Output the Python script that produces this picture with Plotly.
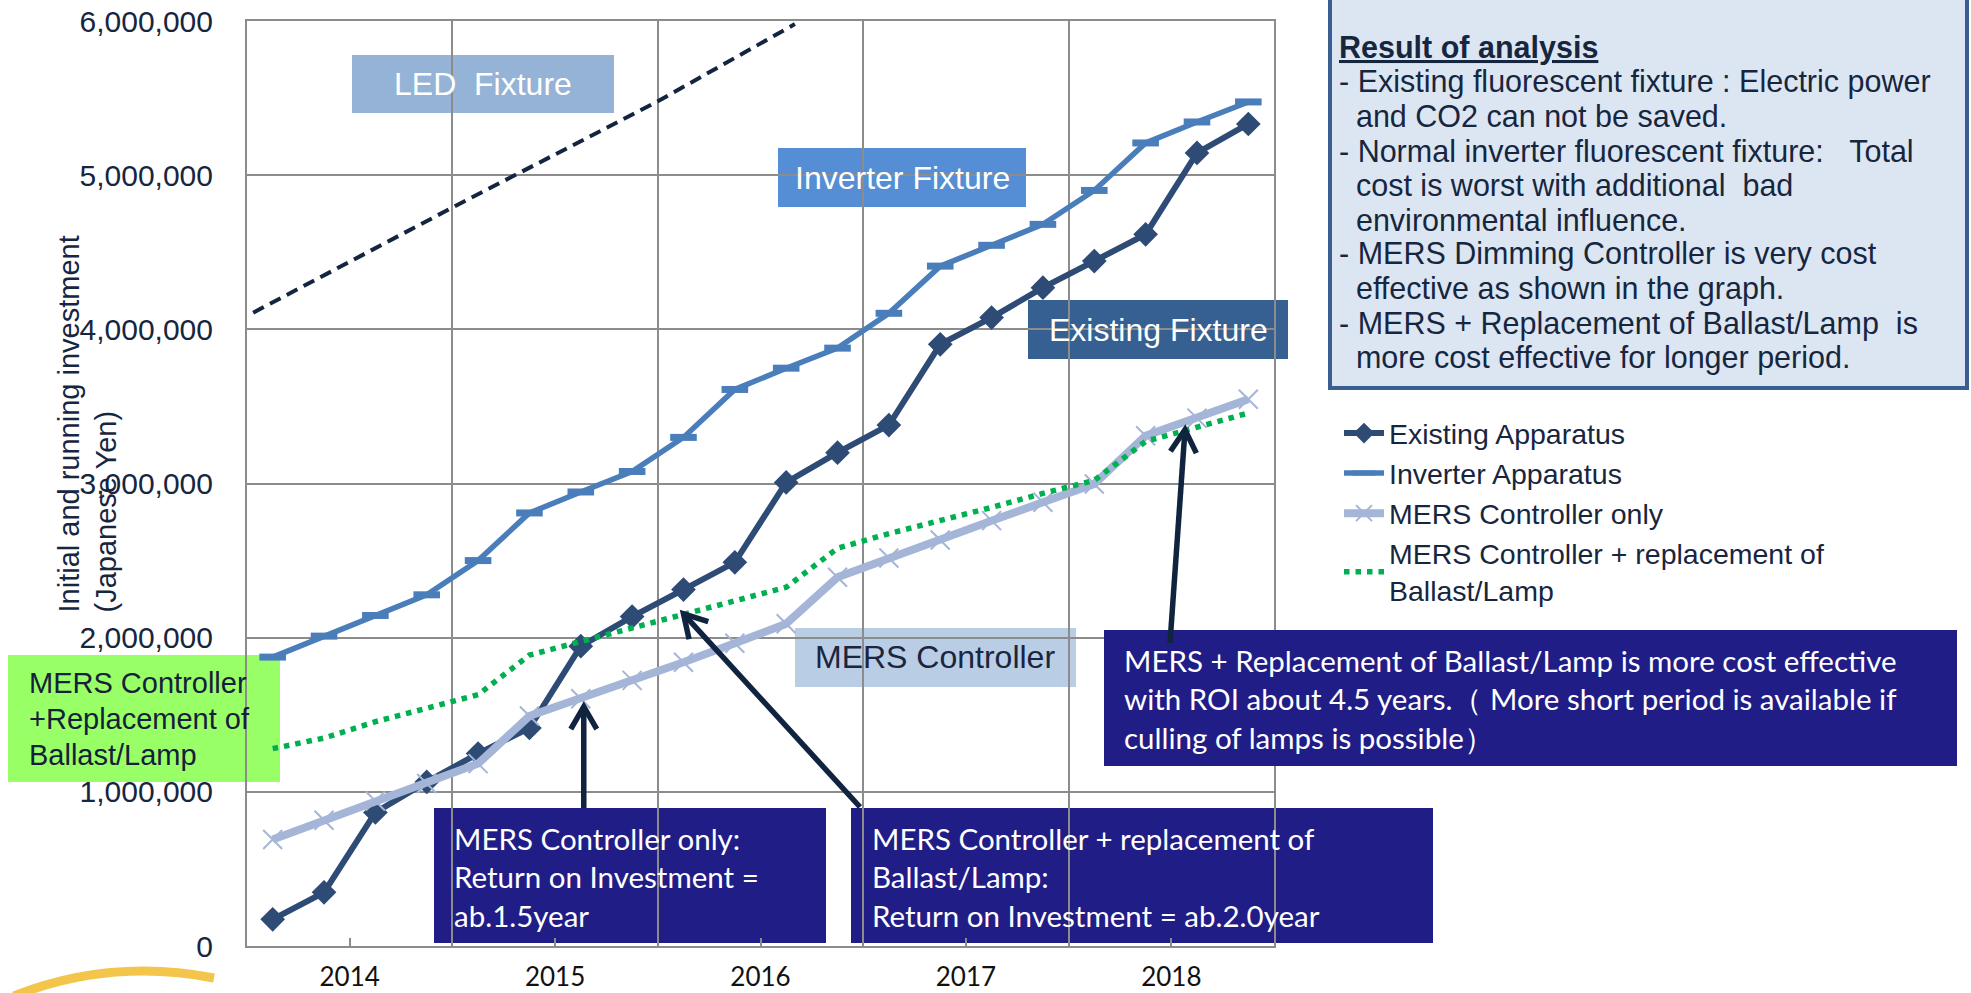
import math
import plotly.graph_objects as go

# ---------------- data ----------------
years = ["2014", "2015", "2016", "2017", "2018"]
quarters_per_year = 4

existing = [173000, 348000, 866000, 1064000, 1248000, 1414000, 1945000, 2137000, 2312000, 2489000,
            3007000, 3200000, 3379000, 3903000, 4076000, 4270000, 4443000, 4616000, 5144000, 5332000]
inverter = [1874000, 2010000, 2144000, 2278000, 2500000, 2809000, 2945000, 3078000, 3299000, 3610000,
            3748000, 3878000, 4104000, 4410000, 4545000, 4681000, 4901000, 5209000, 5345000, 5475000]
mers_only = [691000, 816000, 941000, 1054000, 1183000, 1492000, 1604000, 1723000, 1841000, 1964000,
             2090000, 2392000, 2517000, 2634000, 2759000, 2878000, 2997000, 3310000, 3424000, 3547000]
mers_repl = [1280000, 1349000, 1455000, 1539000, 1630000, 1887000, 1973000, 2062000, 2148000, 2239000,
             2327000, 2580000, 2675000, 2757000, 2845000, 2936000, 3020000, 3273000, 3368000, 3457000]
# LED trend (quarter position, value)
led_q = [0.12, 4.0, 8.0, 10.67]
led = [4108000, 4790000, 5479000, 5980000]

y_max = 6000000
y_ticks = [0, 1000000, 2000000, 3000000, 4000000, 5000000, 6000000]

n_q = len(existing)
q = [i + 0.5 for i in range(n_q)]
year_centers = [k * quarters_per_year + quarters_per_year / 2 for k in range(len(years))]
year_bounds = [k * quarters_per_year for k in range(len(years) + 1)]

# ---------------- layout helpers ----------------
W, H = 1971, 993
L, R, T, B = 247, 1274, 21, 946   # plot area in page pixels


def px(x):
    return (x - L) / (R - L)


def py(y):
    return (B - y) / (B - T)


def data_to_page(xq, val):
    return L + (R - L) * xq / n_q, B - (B - T) * val / y_max


ARIAL = "Liberation Sans, Arial, sans-serif"
CAL = "Lato, Carlito, Calibri, sans-serif"
TXT = "#17263F"
NAVY = "#201E86"
ARROW = "#10243F"

fig = go.Figure()

fig.add_trace(go.Scatter(x=led_q, y=led, mode="lines", showlegend=False, hoverinfo="skip",
                         line=dict(color="#14253F", width=4, dash="12px,7px")))
fig.add_trace(go.Scatter(x=q, y=existing, mode="lines+markers", name="Existing Apparatus",
                         line=dict(color="#2E4B76", width=6),
                         marker=dict(symbol="diamond", size=19, color="#2E4B76")))
fig.add_trace(go.Scatter(x=q, y=inverter, mode="lines+markers", name="Inverter Apparatus",
                         line=dict(color="#4A7EBB", width=5.5),
                         marker=dict(symbol="line-ew", size=19, color="#4A7EBB",
                                     line=dict(color="#4A7EBB", width=7))))
fig.add_trace(go.Scatter(x=q, y=mers_only, mode="lines+markers", name="MERS Controller only",
                         line=dict(color="#A4B5D8", width=8),
                         marker=dict(symbol="x-thin", size=19, color="#A4B5D8",
                                     line=dict(color="#A4B5D8", width=2))))
fig.add_trace(go.Scatter(x=q, y=mers_repl, mode="lines",
                         name="MERS Controller + replacement of<br>Ballast/Lamp",
                         line=dict(color="#00B050", width=5.5, dash="5.5px,6px")))

shapes = []
annotations = []


def box(x0, y0, x1, y1, fill, line_color=None, line_width=0, layer="below"):
    shapes.append(dict(type="rect", xref="paper", yref="paper",
                       x0=px(x0), x1=px(x1), y0=py(y1), y1=py(y0),
                       fillcolor=fill, layer=layer,
                       line=dict(color=line_color or fill, width=line_width)))


def label(text, x, y, size, color, family=ARIAL, xanchor="center", yanchor="middle", align="center"):
    annotations.append(dict(text=text, xref="paper", yref="paper", x=px(x), y=py(y),
                            xanchor=xanchor, yanchor=yanchor, align=align, showarrow=False,
                            font=dict(family=family, size=size, color=color)))


def arrow(tail, head, arm=26, half_angle=30, width=5.5):
    tx, ty = tail
    hx, hy = head
    d = math.hypot(tx - hx, ty - hy)
    ux, uy = (tx - hx) / d, (ty - hy) / d
    pts = []
    for s in (1, -1):
        a = math.radians(half_angle) * s
        rx = ux * math.cos(a) - uy * math.sin(a)
        ry = ux * math.sin(a) + uy * math.cos(a)
        pts.append((hx + arm * rx, hy + arm * ry))
    shapes.append(dict(type="line", xref="paper", yref="paper", layer="above",
                       x0=px(tx), y0=py(ty), x1=px(hx + 2 * ux), y1=py(hy + 2 * uy),
                       line=dict(color=ARROW, width=width)))
    path = "M{},{} L{},{} L{},{}".format(px(pts[0][0]), py(pts[0][1]), px(hx), py(hy),
                                         px(pts[1][0]), py(pts[1][1]))
    shapes.append(dict(type="path", xref="paper", yref="paper", layer="above", path=path,
                       line=dict(color=ARROW, width=width)))


# fixture labels
box(352, 55, 614, 113, "#95B3D7")
label("LED  Fixture", 483, 84, 32, "white")
box(778, 148, 1026, 207, "#558ED5")
label("Inverter Fixture", 902, 178, 32, "white")
box(1028, 300, 1288, 359, "#376092")
label("Existing Fixture", 1158, 330, 32, "white")
box(795, 628, 1076, 687, "#B9CDE5")
label("MERS Controller", 935, 657, 32, "#1A2540")

# green box
box(8, 655, 280, 782, "#99FF66")
for i, t in enumerate(["MERS Controller", "+Replacement of", "Ballast/Lamp"]):
    label(t, 27, 683 + 36 * i, 29, "#15213A", xanchor="left")

# navy boxes
box(434, 808, 826, 943, NAVY)
for i, t in enumerate(["MERS Controller only:", "Return on Investment =", "ab.1.5year"]):
    label(t, 452, 838 + 38.5 * i, 29.5, "white", family=CAL, xanchor="left")
box(851, 808, 1433, 943, NAVY)
for i, t in enumerate(["MERS Controller + replacement of", "Ballast/Lamp:", "Return on Investment = ab.2.0year"]):
    label(t, 870, 838 + 38.5 * i, 29.5, "white", family=CAL, xanchor="left")
box(1104, 630, 1957, 766, NAVY, layer="above")
for i, t in enumerate(["MERS + Replacement of Ballast/Lamp is more cost effective",
                       "with ROI about 4.5 years.\uff08 More short period is available if",
                       "culling of lamps is possible\uff09"]):
    label(t, 1122, 660 + 38.5 * i, 29.5, "white", family=CAL, xanchor="left")

# arrows from boxes to curve points
h1 = data_to_page(q[6], mers_only[6])
arrow((h1[0] + 3, 808), (h1[0] + 3, h1[1] + 8))
h2 = data_to_page(q[8], mers_repl[8])
arrow((860, 807), (h2[0], h2[1] - 1))
h3 = data_to_page(q[18], mers_repl[18])
arrow((1170, 643), (h3[0] - 12, h3[1] + 3))

# results box
box(1330, -10, 1967, 388, "#DCE6F2", line_color="#3B5E91", line_width=4, layer="above")
nb = "\u00a0\u00a0"
res_lines = ["<b><u>Result of analysis</u></b>",
             "- Existing fluorescent fixture : Electric power",
             nb + "and CO2 can not be saved.",
             "- Normal inverter fluorescent fixture:\u00a0\u00a0\u00a0Total",
             nb + "cost is worst with additional\u00a0\u00a0bad",
             nb + "environmental influence.",
             "- MERS Dimming Controller is very cost",
             nb + "effective as shown in the graph.",
             "- MERS + Replacement of Ballast/Lamp\u00a0\u00a0is",
             nb + "more cost effective for longer period."]
for i, t in enumerate(res_lines):
    label(t, 1337, 47 + 34.5 * i, 30.5, TXT, xanchor="left")

# logo fragment at bottom-left
shapes.append(dict(type="path", xref="paper", yref="paper", layer="above",
                   path="M{},{} Q{},{} {},{}".format(px(14), py(996), px(110), py(958), px(214), py(978)),
                   line=dict(color="#F3C54A", width=9)))

# y axis title
annotations.append(dict(text="Initial and running investment<br>(Japanese Yen)",
                        xref="paper", yref="paper", x=px(87), y=py(615), xanchor="center",
                        yanchor="bottom", align="left", textangle=-90, showarrow=False,
                        font=dict(family=ARIAL, size=29, color=TXT)))

fig.update_layout(
    width=W, height=H,
    margin=dict(l=L, r=W - R, t=T, b=H - B, pad=0, autoexpand=False),
    paper_bgcolor="white", plot_bgcolor="white",
    shapes=shapes, annotations=annotations,
    legend=dict(x=px(1339), y=py(408), xanchor="left", yanchor="top",
                font=dict(family=ARIAL, size=28.5, color=TXT),
                bgcolor="rgba(0,0,0,0)", itemwidth=40, tracegroupgap=0),
    xaxis=dict(range=[0, n_q], tickmode="array", tickvals=year_centers, ticktext=years,
               showgrid=False, ticks="inside", ticklen=8, tickwidth=2, tickcolor="#8C8C8C",
               tickfont=dict(family=CAL, size=26, color="#111111"), ticklabelstandoff=7,
               ticklabeloverflow="allow",
               showline=True, linecolor="#8C8C8C", linewidth=2, mirror=True, zeroline=False,
               automargin=False,
               minor=dict(tickmode="array", tickvals=year_bounds, showgrid=True,
                          gridcolor="#8C8C8C", gridwidth=2, ticks="")),
    yaxis=dict(range=[0, y_max], tickmode="array", tickvals=y_ticks, tickformat=",d",
               showgrid=True, gridcolor="#8C8C8C", gridwidth=2, ticks="",
               tickfont=dict(family=ARIAL, size=30, color=TXT), ticklabelstandoff=26,
               ticklabeloverflow="allow",
               showline=True, linecolor="#8C8C8C", linewidth=2, mirror=True, zeroline=False,
               automargin=False),
)

fig.write_html("out.html", config={"displayModeBar": False},
               post_script="document.body.style.margin='0';document.body.style.overflow='hidden';")
